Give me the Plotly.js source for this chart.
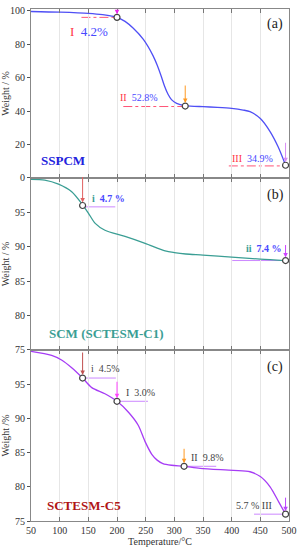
<!DOCTYPE html>
<html><head><meta charset="utf-8">
<script src="https://cdn.plot.ly/plotly-3.0.1.min.js"></script>
<style>html,body{margin:0;padding:0;background:#fff}</style>
</head><body><div id="chart" style="width:301px;height:550px"></div>
<script>
// Panel (a) SSPCM
const tempA = [50,100,150,175,200,214,228,246,263,270,277,283,289,295,304,319,350,375,400,420,432,450,467,481,494];
const wA    = [99.5,99.1,98.4,97.6,96.0,93.6,89.6,82.8,73.0,67.5,61.0,54.8,50.0,46.8,44.6,43.3,42.6,42.2,41.6,40.6,39.6,35.5,27.7,18.6,7.6];
const markTA = [200,319,494];
const markWA = [96.0,43.0,7.6];
// Panel (b) SCM (SCTESM-C1)
const tempB = [50,74,98,121,140,150,162,179,214,249,284,300,320,350,400,450,494];
const wB    = [99.8,99.7,99.1,98.0,96.1,94.9,93.4,92.4,91.5,90.5,89.4,89.15,88.95,88.8,88.5,88.2,88.0];
const markTB = [140,494];
const markWB = [96.0,88.0];
// Panel (c) SCTESM-C5
const tempC = [50,86,104,121,140,156,179,200,220,237,249,261,270,280,295,317,345,403,432,450,467,482,494];
const wC    = [99.8,99.2,98.5,97.4,95.9,94.5,93.6,92.5,90.9,89.0,86.6,84.7,83.9,83.4,83.15,83.0,82.7,82.4,82.2,81.5,80.0,77.8,76.0];
const markTC = [140,200,317,494];
const markWC = [95.9,92.5,83.0,76.0];
const xTicks = [50,100,150,200,250,300,350,400,450,500];

const FONT = 'Liberation Serif, Times New Roman, serif';
const colA = '#4f4ff5', colB = '#3a9e94', colC = '#a63cf5';

function curve(x,y,c,xa,ya){return {x:x,y:y,mode:'lines',line:{color:c,width:1.3,shape:'spline',smoothing:0.8},xaxis:xa,yaxis:ya,hoverinfo:'skip'};}
function marks(x,y,xa,ya){return {x:x,y:y,mode:'markers',marker:{symbol:'circle',size:6,color:'#fff',line:{color:'#444',width:1.2}},xaxis:xa,yaxis:ya,hoverinfo:'skip'};}

const data = [
  curve(tempA,wA,colA,'x3','y3'), marks(markTA,markWA,'x3','y3'),
  curve(tempB,wB,colB,'x2','y2'), marks(markTB,markWB,'x2','y2'),
  curve(tempC,wC,colC,'x','y'), marks(markTC,markWC,'x','y')
];

function hline(xr,yr,x0,x1,y,color,dash){return {type:'line',xref:xr,yref:yr,x0:x0,x1:x1,y0:y,y1:y,line:{color:color,width:1,dash:dash},layer:'below'};}
const shapes = [
  hline('x3','y3',138,markTA[0],markWA[0],'#ff5577','dashdot'),
  hline('x3','y3',211,markTA[1],42.7,'#ff5577','dashdot'),
  hline('x3','y3',395,markTA[2],7.2,'#ff5577','dashdot'),
  hline('x2','y2',markTB[0],197,95.8,'#cc88ff','solid'),
  hline('x2','y2',401,markTB[1],markWB[1],'#cc88ff','solid'),
  hline('x','y',markTC[0],198,markWC[0],'#cc88ff','solid'),
  hline('x','y',markTC[1],254,markWC[1],'#cc88ff','solid'),
  hline('x','y',markTC[2],373,markWC[2],'#cc88ff','solid'),
  hline('x','y',439,markTC[3],markWC[3],'#cc88ff','solid')
];

function arrow(xr,yr,x,y,len,color){return {xref:xr,yref:yr,x:x,y:y,text:'',showarrow:true,arrowhead:2,arrowsize:0.9,arrowwidth:1,arrowcolor:color,ax:0,ay:-len,standoff:3};}
function txt(xr,yr,x,y,t,size,color){return {xref:xr,yref:yr,x:x,y:y,text:t,showarrow:false,font:{family:FONT,size:size,color:color}};}
const red='#ff3344', blue='#4848ff';
const annotations = [
  arrow('x3','y3',markTA[0],markWA[0],6,'#ee22ee'),
  arrow('x3','y3',markTA[1],markWA[1],22,'#ff9922'),
  arrow('x3','y3',markTA[2],markWA[2],24,'#d98cf5'),
  arrow('x2','y2',markTB[0],markWB[0],30,'#e06060'),
  arrow('x2','y2',markTB[1],markWB[1],17,'#cc44ff'),
  arrow('x','y',markTC[0],markWC[0],27,'#c05050'),
  arrow('x','y',markTC[1],markWC[1],21,'#ff44ff'),
  arrow('x','y',markTC[2],markWC[2],19,'#ff9922'),
  arrow('x','y',markTC[3],markWC[3],18,'#bb44ff'),
  txt('x3','y3',151,87.8,'<span style="color:'+red+'">I</span>  4.2%',13,blue),
  txt('x3','y3',239,48.3,'<span style="color:'+red+'">II</span>  52.8%',10,blue),
  txt('x3','y3',437,11.8,'<span style="color:'+red+'">III</span>  34.9%',10,blue),
  txt('x3','y3',476,92.2,'(a)',14,'#222'),
  txt('x3','y3',106,10.2,'<b>SSPCM</b>',13,'#2222dd'),
  txt('x2','y2',185,97.05,'<b><span style="color:'+colB+'">i</span>  4.7 %</b>',10,blue),
  txt('x2','y2',456,89.8,'<b><span style="color:'+colB+'">ii</span>  7.4 %</b>',10,blue),
  txt('x2','y2',477,97.5,'(b)',14,'#222'),
  txt('x2','y2',180,77.4,'<b>SCM (SCTESM-C1)</b>',13,colB),
  txt('x','y',180,97.3,'i  4.5%',10,'#444'),
  txt('x','y',241,93.8,'I  3.0%',10,'#444'),
  txt('x','y',358,84.3,'II  9.8%',10,'#444'),
  txt('x','y',439,77.2,'5.7 % III',10,'#444'),
  txt('x','y',476,97.5,'(c)',14,'#222'),
  txt('x','y',143,77.3,'<b>SCTESM-C5</b>',13,'#b01515')
];

const tickFont = {family:FONT,size:10,color:'#333'};
function xa(anchor,showLabels){
  const o = {anchor:anchor,domain:[0,1],range:[50,500],tickvals:xTicks,ticktext:xTicks.map(String),
    ticks:'inside',ticklen:4,tickcolor:'#777',showline:true,mirror:'ticks',linecolor:'#888',linewidth:1,
    showgrid:true,gridcolor:'#e6e6e6',gridwidth:1,zeroline:false,showticklabels:showLabels,tickfont:tickFont};
  if(anchor!=='y') o.matches='x';
  return o;
}
function ya(domain,range,vals,title){
  return {domain:domain,range:range,tickvals:vals,ticktext:vals.map(String),ticks:'outside',ticklen:3,tickcolor:'#555',
    showline:true,mirror:true,linecolor:'#888',linewidth:1,showgrid:false,zeroline:false,tickfont:tickFont,
    title:{text:title,font:{family:FONT,size:10,color:'#333'},standoff:5}};
}
const layout = {
  width:301,height:550,margin:{l:31,r:12,t:9,b:29},paper_bgcolor:'#fff',plot_bgcolor:'#fff',showlegend:false,
  font:{family:FONT},
  xaxis: Object.assign(xa('y',true),{title:{text:'Temperature/°C',font:{family:FONT,size:10,color:'#333'},standoff:2}}),
  xaxis2: xa('y2',false),
  xaxis3: xa('y3',false),
  yaxis: ya([0,0.334],[75,100],[75,80,85,90,95],'Weight /%'),
  yaxis2: ya([0.334,0.670],[75,100],[75,80,85,90,95],'Weight / %'),
  yaxis3: ya([0.670,1],[0,101],[0,20,40,60,80,100],'Weight / %'),
  shapes:shapes, annotations:annotations
};
Plotly.newPlot('chart',data,layout,{staticPlot:true,displayModeBar:false});
</script></body></html>
